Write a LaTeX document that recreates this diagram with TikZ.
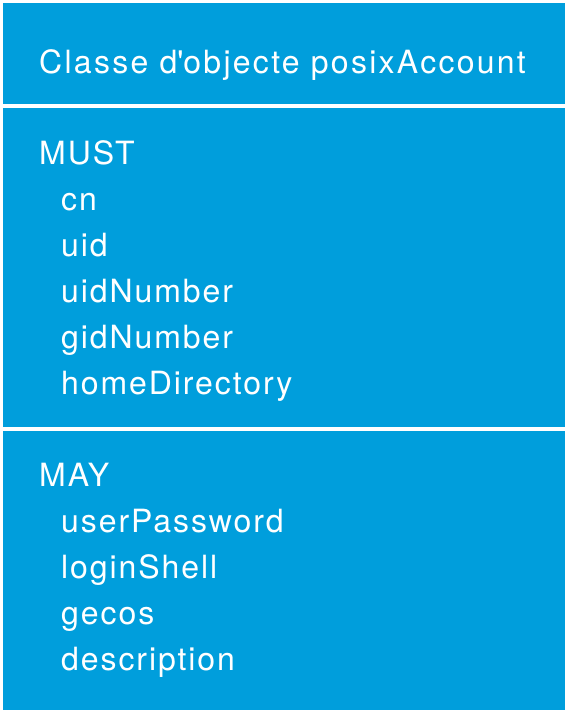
\documentclass[tikz,border=0pt]{standalone}
\usepackage{fontspec}
\setmainfont[LetterSpace=6]{TeX Gyre Heros}
\usepackage{tikz}
\usetikzlibrary{positioning}
\definecolor{schemablue}{RGB}{0,158,220}
\tikzset{
	object class/.style={
		x=1pt,y=-1pt,
		font=\fontsize{32}{46}\selectfont,
		every node/.style={text=white}
	},
	section box/.style={
		rectangle,
		fill=schemablue,
		inner sep=0pt,
		minimum width=562pt,
		anchor=north west
	},
	heading/.style={
		anchor=base west,
		inner sep=0pt
	},
	class name/.style={
		heading,
		font=\fontsize{32}{46}\selectfont\addfontfeature{LetterSpace=7.1}
	},
	attribute/.style={
		heading
	}
}

\begin{document}
\begin{tikzpicture}[object class]
	\fill[white] (0,0) rectangle (568,713);
	\useasboundingbox (0,0) rectangle (568,713);
	% the three compartments
	\node[section box,minimum height=101pt] (title box) at (3,3) {};
	\node[section box,minimum height=319pt] (must box) at (3,108) {};
	\node[section box,minimum height=279pt] (may box) at (3,431) {};
	% class name
	\node[class name] (title) at (39,73.5) {Classe d\textquotesingle objecte posixAccount};
	% required attributes
	\node[heading] (must) at (39,164) {MUST};
	\foreach \attr [count=\i] in {cn,uid,uidNumber,gidNumber,homeDirectory}
		\node[attribute] (must-\i) at (61,164+46*\i) {\attr};
	% optional attributes
	\node[heading] (may) at (39,486) {MAY};
	\foreach \attr [count=\i] in {userPassword,loginShell,gecos,description}
		\node[attribute] (may-\i) at (61,486+46*\i) {\attr};
\end{tikzpicture}
\end{document}
